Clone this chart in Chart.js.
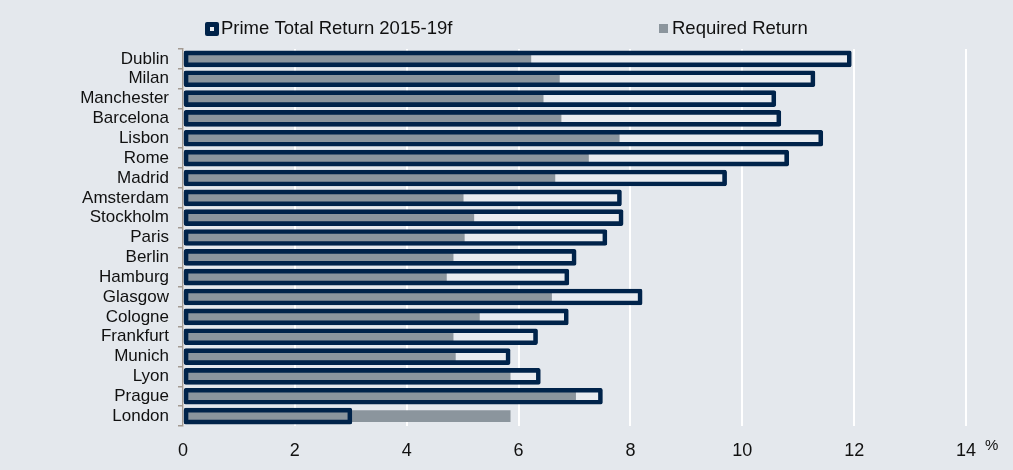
<!DOCTYPE html>
<html>
<head>
<meta charset="utf-8">
<script src="https://cdn.jsdelivr.net/npm/chart.js@4.4.1/dist/chart.umd.min.js"></script>
<style>
  body { margin: 0; background: #e4e8ed; }
  #wrap { width: 1013px; height: 470px; position: relative; }
</style>
</head>
<body>
<div id="wrap"><canvas id="chart"></canvas></div>
<script>
const cities = ["Dublin", "Milan", "Manchester", "Barcelona", "Lisbon", "Rome", "Madrid", "Amsterdam", "Stockholm", "Paris", "Berlin", "Hamburg", "Glasgow", "Cologne", "Frankfurt", "Munich", "Lyon", "Prague", "London"];
const primeReturn = [11.95, 11.3, 10.6, 10.69, 11.44, 10.83, 9.72, 7.84, 7.87, 7.58, 7.03, 6.9, 8.21, 6.89, 6.34, 5.85, 6.39, 7.5, 3.02];
const requiredReturn = [6.22, 6.73, 6.44, 6.76, 7.8, 7.25, 6.65, 5.01, 5.2, 5.03, 4.83, 4.71, 6.59, 5.3, 4.83, 4.87, 5.85, 7.02, 5.85];
const seriesNames = ["Prime Total Return 2015-19f", "Required Return"];

const bg = "#e4e8ed";
const navy = "#00234a";
const grey = "#8b959d";
const axisCol = "#a39a92";
const font = "'Liberation Sans', Arial, sans-serif";

// background + custom legend + "%" unit
const decor = {
  id: "decor",
  beforeDraw(chart) {
    const ctx = chart.ctx;
    ctx.save();
    ctx.fillStyle = bg;
    ctx.fillRect(0, 0, chart.width, chart.height);
    ctx.restore();
  },
  afterDraw(chart) {
    const ctx = chart.ctx;
    ctx.save();
    // legend item 1: outlined box
    ctx.fillStyle = navy;
    ctx.beginPath();
    ctx.roundRect(205, 22, 14, 14, 2);
    ctx.fill();
    ctx.fillStyle = "#e9ecf0";
    ctx.fillRect(210, 27, 4, 4);
    // legend item 2: grey box
    ctx.fillStyle = grey;
    ctx.fillRect(659, 24, 9, 9);

    ctx.fillStyle = "#111";
    ctx.font = "18.5px " + font;
    ctx.textBaseline = "middle";
    ctx.fillText(seriesNames[0], 221, 29);
    ctx.fillText(seriesNames[1], 672, 29);

    ctx.font = "15px " + font;
    ctx.fillText("%", 985, 446);
    ctx.restore();
  }
};

new Chart(document.getElementById("chart"), {
  type: "bar",
  data: {
    labels: cities,
    datasets: [
      {
        label: seriesNames[0],
        data: primeReturn,
        backgroundColor: "rgba(0,0,0,0)",
        borderColor: navy,
        borderWidth: 4,
        borderSkipped: false,
        borderRadius: 2,
        barThickness: 16,
        grouped: false,
        order: 0
      },
      {
        label: seriesNames[1],
        data: requiredReturn,
        backgroundColor: grey,
        borderWidth: 0,
        barThickness: 11,
        grouped: false,
        order: 1
      },
      {
        // light fill inside the outlined bars, drawn underneath
        label: "fill",
        data: primeReturn,
        backgroundColor: "#e9ecf0",
        borderWidth: 0,
        barThickness: 14,
        grouped: false,
        order: 2
      }
    ]
  },
  options: {
    indexAxis: "y",
    responsive: true,
    maintainAspectRatio: false,
    animation: false,
    layout: { padding: { top: 49, right: 47, left: 0, bottom: 0 } },
    plugins: {
      legend: { display: false },
      tooltip: { enabled: false }
    },
    scales: {
      x: {
        min: 0,
        max: 14,
        ticks: {
          stepSize: 2,
          padding: 14,
          color: "#111",
          font: { family: font, size: 18 }
        },
        grid: { color: "#ffffff", lineWidth: 2, drawTicks: false },
        border: { display: false },
        afterFit(s) { s.height = 44; }
      },
      y: {
        ticks: {
          padding: 9,
          color: "#111",
          font: { family: font, size: 17 },
          autoSkip: false
        },
        grid: { drawOnChartArea: false, tickLength: 5, color: axisCol, lineWidth: 1.5 },
        border: { color: axisCol, width: 1.5 },
        afterFit(s) { s.width = 183; }
      }
    }
  },
  plugins: [decor]
});
</script>
</body>
</html>
